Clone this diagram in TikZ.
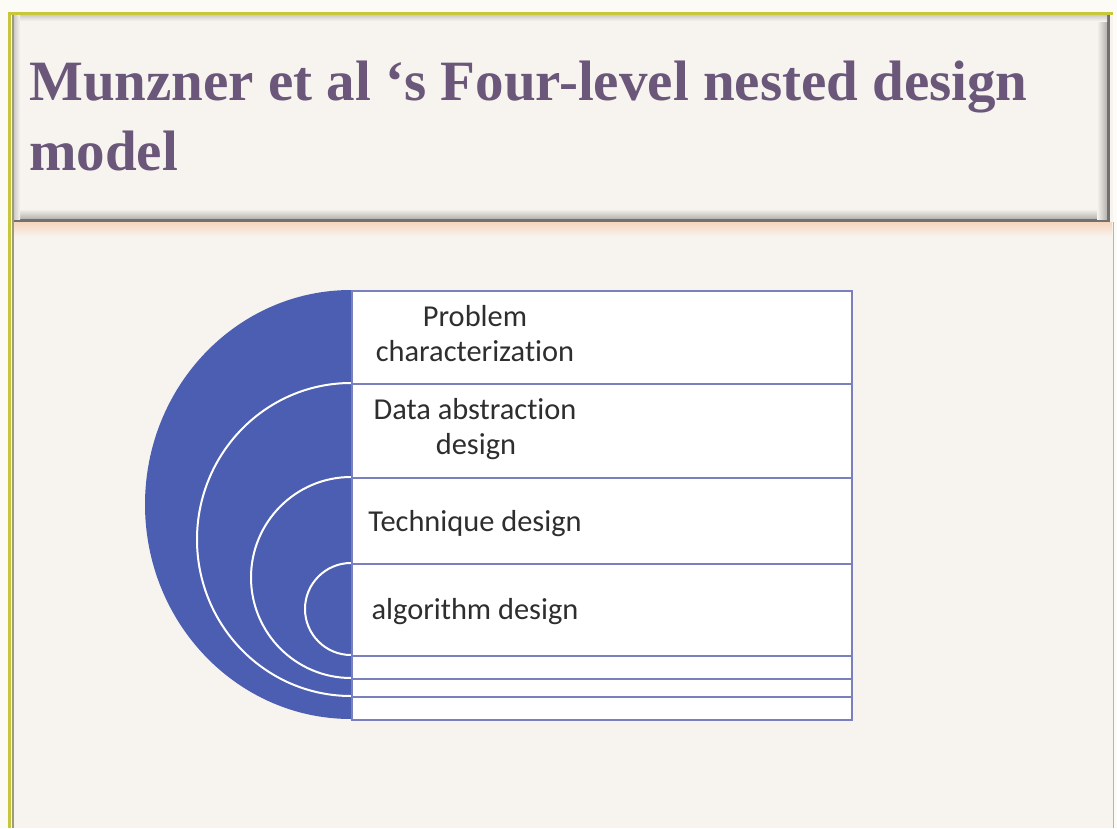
\documentclass[tikz,border=0pt]{standalone}
\usepackage{fontspec}
\setmainfont{Carlito}[RawFeature={-liga}]
\newfontfamily\titlefont{Liberation Serif}
\definecolor{outerbg}{HTML}{FCFBF5}
\definecolor{slidebg}{HTML}{F7F4EF}
\definecolor{framey}{HTML}{C8C63A}
\definecolor{framegray}{HTML}{9E9C78}
\definecolor{shadowgray}{HTML}{B4B2AE}
\definecolor{shadowdark}{HTML}{737170}
\definecolor{peach}{HTML}{F6D5BE}
\definecolor{titlecol}{HTML}{6A577A}
\definecolor{discblue}{HTML}{4B5EB1}
\definecolor{rectline}{HTML}{7A80BE}
\definecolor{textcol}{HTML}{2E2E2E}
\tikzset{
  titletext/.style={anchor=base west, inner sep=0pt, text=titlecol,
    font=\titlefont\bfseries\fontsize{42.75pt}{52pt}\selectfont},
  leveltext/.style={anchor=base, inner sep=0pt, text=textcol,
    font=\fontsize{22.8pt}{27pt}\selectfont},
  levelbox/.style={fill=white, draw=rectline, line width=1.5pt},
  levelarc/.style={fill=discblue, draw=white, line width=1.5pt}
}
\begin{document}
\begin{tikzpicture}[x=0.75pt,y=-0.75pt]
\useasboundingbox (0,0) rectangle (1117,828);
% backgrounds
\fill[outerbg] (0,0) rectangle (1117,828);
\fill[slidebg] (12,14) rectangle (1113,828);
% title box shadows
\shade[top color=slidebg, bottom color=shadowgray] (14,209) rectangle (1107,219);
\fill[shadowdark] (14,219) rectangle (1110,222);
\shade[left color=slidebg, right color=shadowgray] (1097,15) rectangle (1107,219);
\fill[shadowdark] (1107,15) rectangle (1110,222);
\shade[top color=shadowgray!60!slidebg, bottom color=slidebg] (14,15) rectangle (1107,21);
\shade[left color=shadowgray!60!slidebg, right color=slidebg] (14,15) rectangle (20,219);
% peach strip
\shade[top color=peach, bottom color=slidebg] (14,222) rectangle (1112,237);
% frame lines
\draw[framey, line width=2.2pt] (8,13.5) -- (1113,13.5);
\draw[framey, line width=2.2pt] (9.5,12) -- (9.5,828);
\draw[framegray, line width=1.5pt] (12.5,15) -- (12.5,828);
\draw[framegray!70!slidebg, line width=1pt] (1113.5,222) -- (1113.5,828);
% title
\node[titletext] (t1) at (29,100) {Munzner et al ‘s Four-level nested design};
\node[titletext] (t2) at (29,170) {model};
% nested half discs
\begin{scope}
  \clip (0,250) rectangle (351,760);
  \fill[discblue] (351,504.5) ellipse [x radius=206, y radius=214.5];
  \path[levelarc] (351,539.5) ellipse [x radius=154, y radius=156.5];
  \path[levelarc] (351,577.5) ellipse [x radius=100, y radius=100.5];
  \path[levelarc] (351,609) ellipse [x radius=46, y radius=46];
\end{scope}
% stacked boxes
\node[levelbox, minimum width=375pt, minimum height=321.75pt, inner sep=0pt, anchor=north west] (b1) at (351,290) {};
\node[levelbox, minimum width=375pt, minimum height=234.75pt, inner sep=0pt, anchor=north west] (b2) at (351,383) {};
\node[levelbox, minimum width=375pt, minimum height=150.75pt, inner sep=0pt, anchor=north west] (b3) at (351,477) {};
\node[levelbox, minimum width=375pt, minimum height=69pt, inner sep=0pt, anchor=north west] (b4) at (351,563) {};
% labels
\node[leveltext] (l1a) at (475,326) {Problem};
\node[leveltext] (l1b) at (475,361) {characterization};
\node[leveltext] (l2a) at (475,419) {Data abstraction};
\node[leveltext] (l2b) at (476,454) {design};
\node[leveltext] (l3) at (475,531) {Technique design};
\node[leveltext] (l4) at (475,619) {algorithm design};
\end{tikzpicture}
\end{document}
